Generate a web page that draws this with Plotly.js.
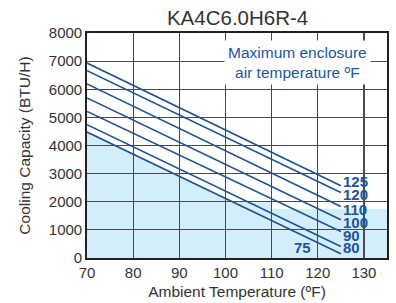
<!DOCTYPE html>
<html>
<head>
<meta charset="utf-8">
<script src="https://cdn.plot.ly/plotly-3.0.1.min.js"></script>
<style>html,body{margin:0;padding:0;background:#fff;}#chart{width:396px;height:303px;}</style>
</head>
<body>
<div id="chart"></div>
<script>
// Data
const ambient = [70, 125];
const seriesNames = ['125', '120', '110', '100', '90', '80', '75'];
const cap125 = [6930, 2570];
const cap120 = [6660, 2330];
const cap110 = [6190, 1830];
const cap100 = [5690, 1360];
const cap90  = [5210, 940];
const cap80  = [4740, 410];
const cap75  = [4480, 150];
const shadeX = [70, 101.5, 110, 110, 135, 135, 70];
const shadeY = [4480, 2000, 2000, 1750, 1750, 0, 0];
const xTicks = [70, 80, 90, 100, 110, 120, 130];
const yTicks = [0, 1000, 2000, 3000, 4000, 5000, 6000, 7000, 8000];

const allCaps = [cap125, cap120, cap110, cap100, cap90, cap80, cap75];
const lineColor = '#1d5296';
const labelColor = '#1c55a0';
const font = 'Liberation Sans, Arial, sans-serif';

const traces = allCaps.map((c, i) => ({
  x: ambient, y: c, mode: 'lines', type: 'scatter', name: seriesNames[i],
  line: {color: lineColor, width: 1.6}, hoverinfo: 'none', showlegend: false
}));

let path = '';
shadeX.forEach((x, i) => { path += (i === 0 ? 'M' : 'L') + x + ',' + shadeY[i]; });
path += 'Z';

const yshifts = [5, -2, -2, -2, -3, -1];
const annotations = [];
for (let i = 0; i < 6; i++) {
  annotations.push({
    x: ambient[1], y: allCaps[i][1], xref: 'x', yref: 'y', text: '<b>' + seriesNames[i] + '</b>',
    showarrow: false, xanchor: 'left', yanchor: 'middle', xshift: 0, yshift: yshifts[i],
    height: 12, valign: 'middle',
    font: {family: font, size: 15, color: labelColor}
  });
}
annotations.push({
  x: 116.6, y: 400, xref: 'x', yref: 'y', text: '<b>' + seriesNames[6] + '</b>',
  showarrow: false, xanchor: 'center', yanchor: 'middle', height: 12,
  font: {family: font, size: 15, color: labelColor}
});
annotations.push({
  x: 115.5, y: 6940, xref: 'x', yref: 'y',
  text: 'Maximum enclosure<br>air temperature ºF',
  showarrow: false, xanchor: 'center', yanchor: 'middle', align: 'center',
  bgcolor: '#ffffff', borderpad: 3,
  font: {family: font, size: 15.5, color: labelColor}
});

const layout = {
  width: 396, height: 303,
  margin: {l: 87, r: 9, t: 33, b: 45, pad: 0},
  paper_bgcolor: '#ffffff', plot_bgcolor: '#ffffff',
  font: {family: font, size: 15, color: '#333333'},
  title: {text: 'KA4C6.0H6R-4', font: {family: font, size: 20.5, color: '#333333'}, x: 0.6, xanchor: 'center', y: 0.94, yanchor: 'middle'},
  xaxis: {
    range: [70, 135], tickvals: xTicks, ticktext: xTicks.map(String),
    showgrid: true, gridcolor: '#4a4a4a', gridwidth: 1.2,
    showline: true, linecolor: '#222222', linewidth: 1.8, mirror: true,
    ticks: '', zeroline: false, fixedrange: true,
    tickfont: {family: font, size: 15, color: '#333333'},
    title: {text: 'Ambient Temperature (ºF)', font: {family: font, size: 15.5, color: '#333333'}, standoff: 6},
    automargin: false
  },
  yaxis: {
    range: [0, 8000], tickvals: yTicks, ticktext: yTicks.map(String),
    showgrid: true, gridcolor: '#4a4a4a', gridwidth: 1.2,
    showline: true, linecolor: '#222222', linewidth: 1.8, mirror: true,
    ticks: '', zeroline: false, fixedrange: true,
    tickfont: {family: font, size: 15, color: '#333333'},
    title: {text: 'Cooling Capacity (BTU/H)', font: {family: font, size: 15.5, color: '#333333'}, standoff: 14},
    automargin: false
  },
  shapes: [{type: 'path', path: path, xref: 'x', yref: 'y', fillcolor: '#d3eefa', line: {width: 0}, layer: 'below'}],
  annotations: annotations
};

Plotly.newPlot('chart', traces, layout, {displayModeBar: false, staticPlot: true});
</script>
</body>
</html>
